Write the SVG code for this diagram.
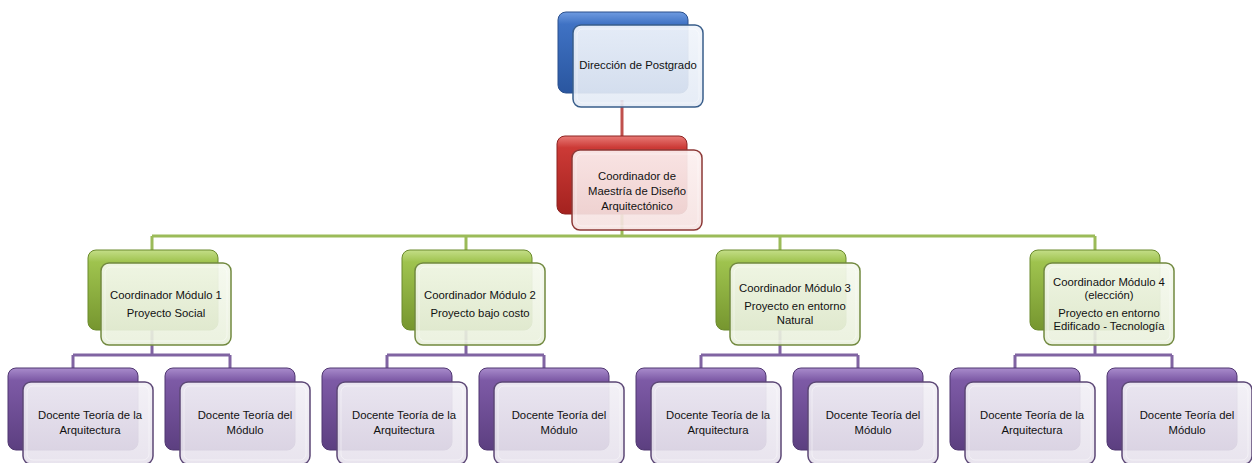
<svg xmlns="http://www.w3.org/2000/svg" width="1252" height="463" viewBox="0 0 1252 463">
<style>
text{font-family:"Liberation Sans",Arial,sans-serif;font-size:11.3px;fill:#111111;text-anchor:middle}
.conn{fill:none;stroke-width:3}
.red{stroke:#c0504d}.green{stroke:#9bbb59}.purple{stroke:#8064a2}
.fb{stroke-width:1.5}
.fbBlue{fill:url(#fBlue);stroke:#385d8a}
.fbRed{fill:url(#fRed);stroke:#8c3836}
.fbGreen{fill:url(#fGreen);stroke:#71893f}
.fbPurple{fill:url(#fPurple);stroke:#5c4776}
.hl{fill:none;stroke:#ffffff;stroke-opacity:0.45;stroke-width:1}
</style>
<defs>
<linearGradient id="bBlue" x1="0" y1="0" x2="0" y2="1"><stop offset="0" stop-color="#6f9be0"/><stop offset="0.15" stop-color="#3f72c4"/><stop offset="1" stop-color="#2a569f"/></linearGradient>
<linearGradient id="bRed" x1="0" y1="0" x2="0" y2="1"><stop offset="0" stop-color="#e87a76"/><stop offset="0.15" stop-color="#cc3a36"/><stop offset="1" stop-color="#a4221f"/></linearGradient>
<linearGradient id="bGreen" x1="0" y1="0" x2="0" y2="1"><stop offset="0" stop-color="#c4de88"/><stop offset="0.15" stop-color="#9fc34e"/><stop offset="1" stop-color="#76962f"/></linearGradient>
<linearGradient id="bPurple" x1="0" y1="0" x2="0" y2="1"><stop offset="0" stop-color="#a98ccc"/><stop offset="0.15" stop-color="#7d5aa6"/><stop offset="1" stop-color="#5c3f80"/></linearGradient>
<linearGradient id="fBlue" x1="0" y1="0" x2="0" y2="1"><stop offset="0" stop-color="#f1f5fb" stop-opacity="0.93"/><stop offset="1" stop-color="#e3eaf5" stop-opacity="0.9"/></linearGradient>
<linearGradient id="fRed" x1="0" y1="0" x2="0" y2="1"><stop offset="0" stop-color="#fcf0f0" stop-opacity="0.93"/><stop offset="1" stop-color="#f5e1e0" stop-opacity="0.9"/></linearGradient>
<linearGradient id="fGreen" x1="0" y1="0" x2="0" y2="1"><stop offset="0" stop-color="#f5f9ee" stop-opacity="0.93"/><stop offset="1" stop-color="#e9f0dc" stop-opacity="0.9"/></linearGradient>
<linearGradient id="fPurple" x1="0" y1="0" x2="0" y2="1"><stop offset="0" stop-color="#f2f0f6" stop-opacity="0.93"/><stop offset="1" stop-color="#e6e1ec" stop-opacity="0.9"/></linearGradient>
</defs>
<rect width="1252" height="463" fill="#ffffff"/>

<g id="connectors">
<path class="conn red" d="M622,100 V140"/>
<path class="conn green" d="M622,213 V236 M152,236 H1095 M152,236 V252 M466,236 V252 M780,236 V252 M1095,236 V252"/>
<path class="conn purple" d="M152,330 V355 M73,355 H230 M73,355 V370 M230,355 V370"/>
<path class="conn purple" d="M466,330 V355 M387,355 H544 M387,355 V370 M544,355 V370"/>
<path class="conn purple" d="M780,330 V355 M701,355 H858 M701,355 V370 M858,355 V370"/>
<path class="conn purple" d="M1095,330 V355 M1015,355 H1172 M1015,355 V370 M1172,355 V370"/>
</g>

<g id="n-direccion">
<rect x="558" y="12" width="130" height="81" rx="8" fill="url(#bBlue)" stroke="#2a4f8c"/>
<rect x="573" y="25" width="130" height="82" rx="8" class="fb fbBlue"/>
<rect x="577" y="29" width="122" height="74" rx="6" class="hl"/>
<text x="638" y="69">Dirección de Postgrado</text>
</g>

<g id="n-coordinador-maestria">
<rect x="557" y="136" width="130" height="78" rx="8" fill="url(#bRed)" stroke="#8c2220"/>
<rect x="572" y="150" width="130" height="80" rx="8" class="fb fbRed"/>
<rect x="576" y="154" width="122" height="72" rx="6" class="hl"/>
<text x="637" y="180">Coordinador de</text>
<text x="637" y="195">Maestría de Diseño</text>
<text x="637" y="210">Arquitectónico</text>
</g>

<g id="n-modulo1">
<rect x="88" y="250" width="130" height="80" rx="8" fill="url(#bGreen)" stroke="#6a8a2c"/>
<rect x="101" y="263" width="130" height="82" rx="8" class="fb fbGreen"/>
<rect x="105" y="267" width="122" height="74" rx="6" class="hl"/>
<text x="166" y="299">Coordinador Módulo 1</text>
<text x="166" y="317">Proyecto Social</text>
</g>

<g id="n-modulo2">
<rect x="402" y="250" width="130" height="80" rx="8" fill="url(#bGreen)" stroke="#6a8a2c"/>
<rect x="415" y="263" width="130" height="82" rx="8" class="fb fbGreen"/>
<rect x="419" y="267" width="122" height="74" rx="6" class="hl"/>
<text x="480" y="299">Coordinador Módulo 2</text>
<text x="480" y="317">Proyecto bajo costo</text>
</g>

<g id="n-modulo3">
<rect x="716" y="250" width="130" height="80" rx="8" fill="url(#bGreen)" stroke="#6a8a2c"/>
<rect x="730" y="263" width="130" height="82" rx="8" class="fb fbGreen"/>
<rect x="734" y="267" width="122" height="74" rx="6" class="hl"/>
<text x="795" y="292">Coordinador Módulo 3</text>
<text x="795" y="310">Proyecto en entorno</text>
<text x="795" y="324">Natural</text>
</g>

<g id="n-modulo4">
<rect x="1030" y="250" width="130" height="80" rx="8" fill="url(#bGreen)" stroke="#6a8a2c"/>
<rect x="1044" y="263" width="130" height="82" rx="8" class="fb fbGreen"/>
<rect x="1048" y="267" width="122" height="74" rx="6" class="hl"/>
<text x="1109" y="286">Coordinador Módulo 4</text>
<text x="1109" y="299">(elección)</text>
<text x="1109" y="317">Proyecto en entorno</text>
<text x="1109" y="330">Edificado - Tecnología</text>
</g>

<g id="n-docente-1a">
<rect x="8" y="368" width="130" height="82" rx="8" fill="url(#bPurple)" stroke="#4f3670"/>
<rect x="23" y="382" width="130" height="82" rx="8" class="fb fbPurple"/>
<rect x="27" y="386" width="122" height="74" rx="6" class="hl"/>
<text x="90" y="419">Docente Teoría de la</text>
<text x="90" y="434">Arquitectura</text>
</g>
<g id="n-docente-1b">
<rect x="165" y="368" width="130" height="82" rx="8" fill="url(#bPurple)" stroke="#4f3670"/>
<rect x="180" y="382" width="130" height="82" rx="8" class="fb fbPurple"/>
<rect x="184" y="386" width="122" height="74" rx="6" class="hl"/>
<text x="245" y="419">Docente Teoría del</text>
<text x="245" y="434">Módulo</text>
</g>

<g id="n-docente-2a">
<rect x="322" y="368" width="130" height="82" rx="8" fill="url(#bPurple)" stroke="#4f3670"/>
<rect x="337" y="382" width="130" height="82" rx="8" class="fb fbPurple"/>
<rect x="341" y="386" width="122" height="74" rx="6" class="hl"/>
<text x="404" y="419">Docente Teoría de la</text>
<text x="404" y="434">Arquitectura</text>
</g>
<g id="n-docente-2b">
<rect x="479" y="368" width="130" height="82" rx="8" fill="url(#bPurple)" stroke="#4f3670"/>
<rect x="494" y="382" width="130" height="82" rx="8" class="fb fbPurple"/>
<rect x="498" y="386" width="122" height="74" rx="6" class="hl"/>
<text x="559" y="419">Docente Teoría del</text>
<text x="559" y="434">Módulo</text>
</g>

<g id="n-docente-3a">
<rect x="636" y="368" width="130" height="82" rx="8" fill="url(#bPurple)" stroke="#4f3670"/>
<rect x="651" y="382" width="130" height="82" rx="8" class="fb fbPurple"/>
<rect x="655" y="386" width="122" height="74" rx="6" class="hl"/>
<text x="718" y="419">Docente Teoría de la</text>
<text x="718" y="434">Arquitectura</text>
</g>
<g id="n-docente-3b">
<rect x="793" y="368" width="130" height="82" rx="8" fill="url(#bPurple)" stroke="#4f3670"/>
<rect x="808" y="382" width="130" height="82" rx="8" class="fb fbPurple"/>
<rect x="812" y="386" width="122" height="74" rx="6" class="hl"/>
<text x="873" y="419">Docente Teoría del</text>
<text x="873" y="434">Módulo</text>
</g>

<g id="n-docente-4a">
<rect x="950" y="368" width="130" height="82" rx="8" fill="url(#bPurple)" stroke="#4f3670"/>
<rect x="965" y="382" width="130" height="82" rx="8" class="fb fbPurple"/>
<rect x="969" y="386" width="122" height="74" rx="6" class="hl"/>
<text x="1032" y="419">Docente Teoría de la</text>
<text x="1032" y="434">Arquitectura</text>
</g>
<g id="n-docente-4b">
<rect x="1107" y="368" width="130" height="82" rx="8" fill="url(#bPurple)" stroke="#4f3670"/>
<rect x="1122" y="382" width="130" height="82" rx="8" class="fb fbPurple"/>
<rect x="1126" y="386" width="122" height="74" rx="6" class="hl"/>
<text x="1187" y="419">Docente Teoría del</text>
<text x="1187" y="434">Módulo</text>
</g>
</svg>
